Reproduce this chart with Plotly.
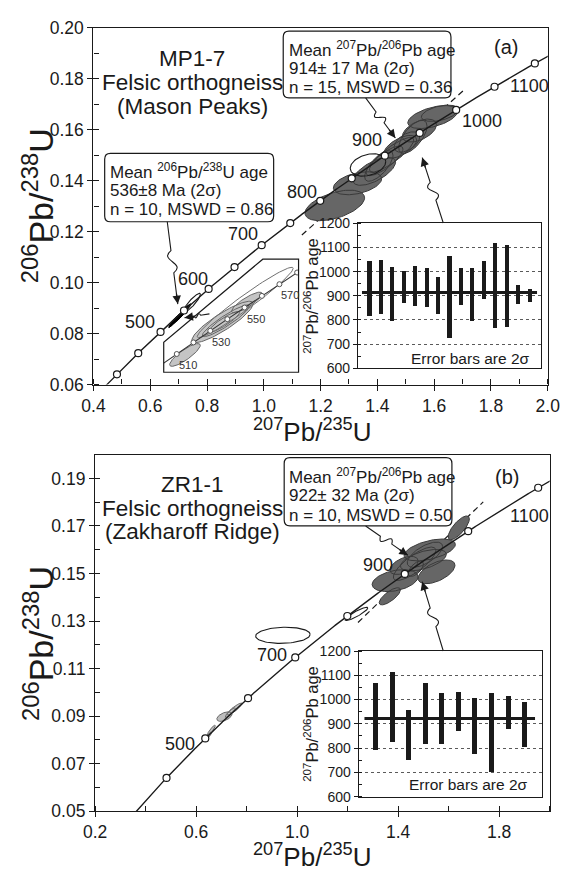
import numpy as np
import plotly.graph_objects as go

W, H = 577, 875
FONT = "Liberation Sans, Arial, sans-serif"
INK = "#1a1a1a"

# ---------------- data ----------------
LAMBDA_238 = 1.55125e-10
LAMBDA_235 = 9.8485e-10

marker_ages_a = [400, 450, 500, 550, 600, 650, 700, 750, 800, 850, 900, 950, 1000, 1050, 1100]
label_ages_a = [500, 600, 700, 800, 900, 1000, 1100]
marker_ages_b = [400, 500, 600, 700, 800, 900, 1000, 1100]
label_ages_b = [500, 700, 900, 1100]
inset_marker_ages = [500, 510, 520, 530, 540, 550, 560, 570, 580]
inset_label_ages = [510, 530, 550, 570]

# ellipses: (cx, cy, half-width x, half-height y, rho)
ell_a_dark = [
    (1.250, 0.1303, 0.105, 0.0060, 0.50),
    (1.330, 0.1390, 0.085, 0.0045, 0.40),
    (1.389, 0.1437, 0.075, 0.0055, 0.65),
    (1.405, 0.1458, 0.050, 0.0060, 0.70),
    (1.425, 0.1478, 0.065, 0.0058, 0.80),
    (1.450, 0.1502, 0.078, 0.0068, 0.85),
    (1.480, 0.1533, 0.058, 0.0045, 0.60),
    (1.504, 0.1552, 0.045, 0.0040, 0.50),
    (1.525, 0.1572, 0.050, 0.0065, 0.65),
    (1.548, 0.1597, 0.060, 0.0045, 0.50),
    (1.595, 0.1650, 0.088, 0.0045, 0.50),
    (1.620, 0.1665, 0.065, 0.0032, 0.45),
]
ell_a_open = [(1.367, 0.1462, 0.0625, 0.0044, 0.30),
              (0.746, 0.0920, 0.031, 0.0038, 0.90)]
ell_a_black = [
    (0.680, 0.0845, 0.015, 0.0022, 0.95),
    (0.690, 0.0855, 0.022, 0.0028, 0.95),
    (0.705, 0.0870, 0.025, 0.0030, 0.95),
    (0.715, 0.0882, 0.022, 0.0030, 0.95),
    (0.725, 0.0893, 0.018, 0.0024, 0.95),
]
ell_inset_gray = [
    (0.6605, 0.08219, 0.0150, 0.00165, 0.85),
    (0.6973, 0.08697, 0.0300, 0.00300, 0.88),
    (0.7005, 0.08714, 0.0230, 0.00230, 0.92),
    (0.6990, 0.08700, 0.0150, 0.00150, 0.90),
    (0.7211, 0.08980, 0.0150, 0.00150, 0.85),
]
ell_inset_open = [(0.7195, 0.0898, 0.047, 0.0051, 0.97)]

ell_b_dark = [
    (1.388, 0.1470, 0.091, 0.0046, 0.35),
    (1.367, 0.1404, 0.042, 0.0036, 0.75),
    (1.552, 0.1507, 0.073, 0.0050, 0.55),
    (1.465, 0.1541, 0.084, 0.0070, 0.80),
    (1.423, 0.1534, 0.056, 0.0038, 0.50),
    (1.500, 0.1556, 0.091, 0.0045, 0.55),
    (1.506, 0.1579, 0.070, 0.0053, 0.65),
    (1.525, 0.1599, 0.1015, 0.0046, 0.50),
    (1.640, 0.1692, 0.042, 0.0050, 0.75),
    (1.470, 0.1520, 0.030, 0.0032, 0.60),
]
ell_b_light = [
    (0.647, 0.0815, 0.014, 0.0018, 0.90),
    (0.660, 0.0840, 0.016, 0.0022, 0.90),
    (0.712, 0.0898, 0.030, 0.0020, 0.50),
    (0.735, 0.0915, 0.020, 0.0020, 0.90),
    (0.752, 0.0930, 0.030, 0.0025, 0.90),
]
ell_b_open = [(0.9436, 0.1240, 0.108, 0.0034, 0.10),
              (1.235, 0.1330, 0.045, 0.0028, 0.90)]

discordia_a_x = [1.134, 1.706]
discordia_a_y = [0.1187, 0.1757]
discordia_b_x = [1.241, 1.737]
discordia_b_y = [0.1294, 0.1801]

bars_a_low = [815, 824, 795, 867, 858, 854, 823, 723, 862, 793, 885, 764, 770, 863, 872]
bars_a_high = [1043, 1046, 1019, 1001, 1023, 1015, 976, 1062, 1012, 1012, 1042, 1117, 1110, 945, 929]
mean_a = 914
bars_b_low = [792, 826, 752, 815, 817, 872, 777, 700, 879, 804]
bars_b_high = [1067, 1113, 958, 1070, 1027, 1032, 1007, 1027, 1016, 989]
mean_b = 922


# ---------------- helpers ----------------
def conc(ages):
    t = np.asarray(ages, dtype=float) * 1e6
    return np.exp(LAMBDA_235 * t) - 1, np.exp(LAMBDA_238 * t) - 1


def ellipse_group(ells, n=90):
    xs, ys = [], []
    t = np.linspace(0, 2 * np.pi, n)
    for cx, cy, sx, sy, rho in ells:
        xs += list(cx + sx * np.cos(t)) + [None]
        ys += list(cy + sy * (rho * np.cos(t) + np.sqrt(1 - rho ** 2) * np.sin(t))) + [None]
    return xs, ys


def X(px):
    return px / W


def Y(py):
    return 1 - py / H


fig = go.Figure()

curve_ages = np.arange(300, 1210, 2)


def add_panel(xa, ya, dark, dark_fill, light, opens, black, disc_x, disc_y, marks, labels, shifts):
    cx, cy = conc(curve_ages)
    fig.add_trace(go.Scatter(x=disc_x, y=disc_y, mode="lines", xaxis=xa, yaxis=ya,
                             line=dict(color=INK, width=1.2, dash="6px,4px"), hoverinfo="skip"))
    for ells, fill, lc in [(dark, dark_fill, "#3a3a3a"), (light, "#bdbdbd", "#6a6a6a"),
                           (black, "#000000", "#000000")]:
        if ells:
            ex, ey = ellipse_group(ells)
            fig.add_trace(go.Scatter(x=ex, y=ey, mode="lines", fill="toself", fillcolor=fill,
                                     xaxis=xa, yaxis=ya, line=dict(color=lc, width=1), hoverinfo="skip"))
    if opens:
        ex, ey = ellipse_group(opens)
        fig.add_trace(go.Scatter(x=ex, y=ey, mode="lines", xaxis=xa, yaxis=ya,
                                 line=dict(color=INK, width=1.1), hoverinfo="skip"))
    fig.add_trace(go.Scatter(x=cx, y=cy, mode="lines", xaxis=xa, yaxis=ya,
                             line=dict(color=INK, width=1.4), hoverinfo="skip"))
    mx, my = conc(marks)
    fig.add_trace(go.Scatter(x=mx, y=my, mode="markers", xaxis=xa, yaxis=ya,
                             marker=dict(symbol="circle", size=7, color="white",
                                         line=dict(color=INK, width=1.2)), hoverinfo="skip"))
    lx, ly = conc(labels)
    for a, x, y in zip(labels, lx, ly):
        dx, dy = shifts[a]
        fig.add_annotation(x=x, y=y, xref=xa, yref=ya, text=str(a), showarrow=False,
                           xshift=dx, yshift=dy, font=dict(size=18, color=INK, family=FONT))


add_panel("x", "y", ell_a_dark, "#666666", [], ell_a_open, ell_a_black,
          discordia_a_x, discordia_a_y, marker_ages_a, label_ages_a,
          {500: (-21, 10), 600: (-16, 10), 700: (-19, 11), 800: (-18, 9),
           900: (-18, 16), 1000: (26, -11), 1100: (-5, -23)})
add_panel("x3", "y3", ell_b_dark, "#666666", ell_b_light, ell_b_open, [],
          discordia_b_x, discordia_b_y, marker_ages_b, label_ages_b,
          {500: (-25, -6), 700: (-23, 2), 900: (-27, 9), 1100: (-9, -28)})

# dummy traces for overlay tick axes
for xa, ya, x, y in [("x2", "y2", 1.0, 0.1), ("x4", "y4", 1.0, 0.1)]:
    fig.add_trace(go.Scatter(x=[x], y=[y], xaxis=xa, yaxis=ya, mode="markers",
                             marker=dict(opacity=0), hoverinfo="skip"))

# ---- concordia zoom inset in (a)
icx, icy = conc(curve_ages)
ex, ey = ellipse_group(ell_inset_gray)
fig.add_trace(go.Scatter(x=ex, y=ey, mode="lines", fill="toself", fillcolor="#c4c4c4",
                         xaxis="x7", yaxis="y7", line=dict(color="#666666", width=1), hoverinfo="skip"))
ex, ey = ellipse_group(ell_inset_open)
fig.add_trace(go.Scatter(x=ex, y=ey, mode="lines", xaxis="x7", yaxis="y7",
                         line=dict(color="#707070", width=1), hoverinfo="skip"))
fig.add_trace(go.Scatter(x=icx, y=icy, mode="lines", xaxis="x7", yaxis="y7",
                         line=dict(color="#333", width=1.1), hoverinfo="skip"))
mx, my = conc(inset_marker_ages)
fig.add_trace(go.Scatter(x=mx, y=my, mode="markers", xaxis="x7", yaxis="y7",
                         marker=dict(size=5, color="white", line=dict(color="#555", width=1)),
                         hoverinfo="skip"))
lx, ly = conc(inset_label_ages)
for a, x, y in zip(inset_label_ages, lx, ly):
    fig.add_annotation(x=x, y=y, xref="x7", yref="y7", text=str(a), showarrow=False,
                       xshift=11, yshift=-11, font=dict(size=11, color="#333333", family=FONT))

# ---- bar insets
for xa, ya, lo, hi, mean, width in [("x5", "y5", bars_a_low, bars_a_high, mean_a, 0.36),
                                     ("x6", "y6", bars_b_low, bars_b_high, mean_b, 0.30)]:
    idx = list(range(1, len(lo) + 1))
    fig.add_trace(go.Bar(x=idx, y=[h - l for l, h in zip(lo, hi)], base=lo, width=width,
                         marker=dict(color=INK, line=dict(width=0)), xaxis=xa, yaxis=ya,
                         hoverinfo="skip"))
    n = len(lo)
    fig.add_trace(go.Scatter(x=[0.35, n + 0.65], y=[mean, mean], mode="lines", xaxis=xa, yaxis=ya,
                             line=dict(color=INK, width=3), hoverinfo="skip"))

# ---------------- axes ----------------
dom_ax = [X(85), X(559)]
dom_ay = [Y(383.3), Y(18.3)]
dom_bx = [X(86.7), X(561)]
dom_by = [Y(820), Y(455)]


def main_axis(domain, rng, tick0, dtick, mdtick, fmt, anchor):
    return dict(domain=domain, range=rng, anchor=anchor, showline=True, linecolor=INK,
                linewidth=1.4, mirror=True, ticks="outside", ticklen=5, tickwidth=1.3,
                tickcolor=INK, tick0=tick0, dtick=dtick, tickformat=fmt,
                tickfont=dict(size=17.5, color=INK, family=FONT),
                minor=dict(ticks="inside", ticklen=5, tickwidth=1.2, tickcolor=INK,
                           tick0=tick0, dtick=mdtick),
                showgrid=False, zeroline=False)


def over_axis(domain, rng, tick0, dtick, anchor, overlaying, side):
    return dict(domain=domain, range=rng, anchor=anchor, overlaying=overlaying, side=side,
                showline=False, ticks="inside", ticklen=5, tickwidth=1.3, tickcolor=INK,
                tick0=tick0, dtick=dtick, showticklabels=False, showgrid=False, zeroline=False)


def inset_y(domain, anchor):
    return dict(domain=domain, range=[600, 1200], anchor=anchor, showline=True, linecolor=INK,
                linewidth=1.2, mirror=True, ticks="outside", ticklen=4, tickwidth=1.1,
                tickcolor=INK, tick0=600, dtick=100, tickfont=dict(size=14, color=INK, family=FONT),
                minor=dict(ticks="inside", ticklen=3, tickwidth=1, tickcolor=INK, dtick=50),
                showgrid=True, gridcolor="#5a5a5a", gridwidth=1, griddash="dot", zeroline=False)


def inset_x(domain, anchor, rng):
    return dict(domain=domain, range=rng, anchor=anchor, showline=True, linecolor=INK,
                linewidth=1.2, mirror=True, ticks="", showticklabels=False, showgrid=False,
                zeroline=False)


fig.update_layout(
    width=W, height=H, margin=dict(l=0, r=0, t=0, b=0), showlegend=False,
    paper_bgcolor="white", plot_bgcolor="rgba(0,0,0,0)",
    font=dict(family=FONT, color=INK), bargap=0,
    xaxis=main_axis(dom_ax, [0.4, 2.0], 0.4, 0.2, 0.1, ".1f", "y"),
    yaxis=main_axis(dom_ay, [0.06, 0.20], 0.06, 0.02, 0.01, ".2f", "x"),
    xaxis2=over_axis(dom_ax, [0.4, 2.0], 0.4, 0.2, "y2", "x", "bottom"),
    yaxis2=over_axis(dom_ay, [0.06, 0.20], 0.06, 0.02, "x2", "y", "left"),
    xaxis3=main_axis(dom_bx, [0.2, 2.0], 0.2, 0.4, 0.2, ".1f", "y3"),
    yaxis3=main_axis(dom_by, [0.05, 0.20], 0.05, 0.02, 0.01, ".2f", "x3"),
    xaxis4=over_axis(dom_bx, [0.2, 2.0], 0.2, 0.4, "y4", "x3", "bottom"),
    yaxis4=over_axis(dom_by, [0.05, 0.20], 0.05, 0.02, "x4", "y3", "left"),
    xaxis5=inset_x([X(361), X(552)], "y5", [0, 16]),
    yaxis5=inset_y([Y(366.7), Y(218.3)], "x5"),
    xaxis6=inset_x([X(361.7), X(553.5)], "y6", [0, 11.1]),
    yaxis6=inset_y([Y(805), Y(656)], "x6"),
    xaxis7=dict(domain=[X(158.3), X(299)], range=[0.6397, 0.7718], anchor="y7", visible=False),
    yaxis7=dict(domain=[Y(370.7), Y(255)], range=[0.07968, 0.09608], anchor="x7", visible=False),
)

# ---------------- shapes ----------------
shapes = []


def rrect(x0, y0, x1, y1, r=6):
    p = (f"M {X(x0 + r)},{Y(y0)} L {X(x1 - r)},{Y(y0)} Q {X(x1)},{Y(y0)} {X(x1)},{Y(y0 + r)} "
         f"L {X(x1)},{Y(y1 - r)} Q {X(x1)},{Y(y1)} {X(x1 - r)},{Y(y1)} "
         f"L {X(x0 + r)},{Y(y1)} Q {X(x0)},{Y(y1)} {X(x0)},{Y(y1 - r)} "
         f"L {X(x0)},{Y(y0 + r)} Q {X(x0)},{Y(y0)} {X(x0 + r)},{Y(y0)} Z")
    shapes.append(dict(type="path", path=p, xref="paper", yref="paper",
                       line=dict(color=INK, width=1.2), fillcolor="white", layer="above"))


rrect(283, 21.7, 458, 90)
rrect(96.7, 146.7, 273, 216.7)
rrect(284, 458, 459, 528)

# pentagon frame of the zoom inset
pent = [(158.3, 370.7), (158.3, 340), (261.7, 255), (299, 255), (299, 370.7)]
p = "M " + " L ".join(f"{X(a)},{Y(b)}" for a, b in pent) + " Z"
shapes.append(dict(type="path", path=p, xref="paper", yref="paper",
                   line=dict(color=INK, width=1.2), layer="above"))


def wavy(p0, p1, amp=9):
    x0, y0 = p0
    x1, y1 = p1
    dx, dy = x1 - x0, y1 - y0
    L = (dx * dx + dy * dy) ** 0.5
    ux, uy = dx / L, dy / L
    nx, ny = -uy, ux
    a = (x0 + 0.35 * dx, y0 + 0.35 * dy)
    b = (x0 + 0.62 * dx, y0 + 0.62 * dy)
    c1 = (a[0] + 1.6 * amp * nx + 0.1 * dx, a[1] + 1.6 * amp * ny + 0.1 * dy)
    c2 = (b[0] - 1.6 * amp * nx - 0.1 * dx, b[1] - 1.6 * amp * ny - 0.1 * dy)
    path = (f"M {X(x0)},{Y(y0)} L {X(a[0])},{Y(a[1])} C {X(c1[0])},{Y(c1[1])} "
            f"{X(c2[0])},{Y(c2[1])} {X(b[0])},{Y(b[1])} L {X(x1)},{Y(y1)}")
    shapes.append(dict(type="path", path=path, xref="paper", yref="paper",
                       line=dict(color=INK, width=1.1), layer="above"))
    fig.add_annotation(x=X(x1), y=Y(y1), xref="paper", yref="paper", text="", showarrow=True,
                       ax=-ux * 12, ay=-uy * 12, arrowhead=2, arrowsize=1.3, arrowwidth=1.3,
                       arrowcolor=INK, standoff=0)


wavy((369, 90), (400, 131))
wavy((450, 218), (428, 151))
wavy((162, 216.7), (173, 301))
wavy((206, 311), (180, 315), amp=4)
wavy((369, 528), (413, 558))
wavy((450, 656), (428, 585))

fig.update_layout(shapes=shapes)


# ---------------- text ----------------
def txt(px, py, s, size, anchor="left", angle=0, color=INK):
    fig.add_annotation(x=X(px), y=Y(py), xref="paper", yref="paper", text=s, showarrow=False,
                       xanchor=anchor, yanchor="middle", textangle=angle,
                       font=dict(size=size, color=color, family=FONT))


for yy, s in [(40, "Mean <sup>207</sup>Pb/<sup>206</sup>Pb age"), (60, "914\u00b1 17 Ma (2\u03c3)"),
              (79, "n = 15, MSWD = 0.36")]:
    txt(287, yy, s, 17)
for yy, s in [(165, "Mean <sup>206</sup>Pb/<sup>238</sup>U age"), (185, "536\u00b18 Ma (2\u03c3)"),
              (204, "n = 10, MSWD = 0.86")]:
    txt(100, yy, s, 17)
for yy, s in [(477, "Mean <sup>207</sup>Pb/<sup>206</sup>Pb age"), (497, "922\u00b1 32 Ma (2\u03c3)"),
              (517, "n = 10, MSWD = 0.50")]:
    txt(287, yy, s, 17)

for yy, s in [(50, "MP1-7"), (74, "Felsic orthogneiss"), (99, "(Mason Peaks)")]:
    txt(188, yy, s, 22.5, anchor="center")
for yy, s in [(486, "ZR1-1"), (510, "Felsic orthogneiss"), (534, "(Zakharoff Ridge)")]:
    txt(188, yy, s, 22.5, anchor="center")

txt(515, 38, "(a)", 20, anchor="center")
txt(517, 478, "(b)", 20, anchor="center")

ytitle = "<sup>206</sup>Pb/<sup>238</sup>U"
xtitle = "<sup>207</sup>Pb/<sup>235</sup>U"
txt(27, 200, ytitle, 34, anchor="center", angle=-90)
txt(27, 648, ytitle, 34, anchor="center", angle=-90)
txt(314, 430, xtitle, 26, anchor="center")
txt(314, 865, xtitle, 26, anchor="center")

itit = "<sup>207</sup>Pb/<sup>206</sup>Pb age"
txt(312, 292.5, itit, 16.5, anchor="center", angle=-90)
txt(312, 730.5, itit, 16.5, anchor="center", angle=-90)
txt(543, 357, "Error bars are 2\u03c3", 15.5, anchor="right")
txt(541, 793, "Error bars are 2\u03c3", 15.5, anchor="right")

fig.write_html("out.html")
